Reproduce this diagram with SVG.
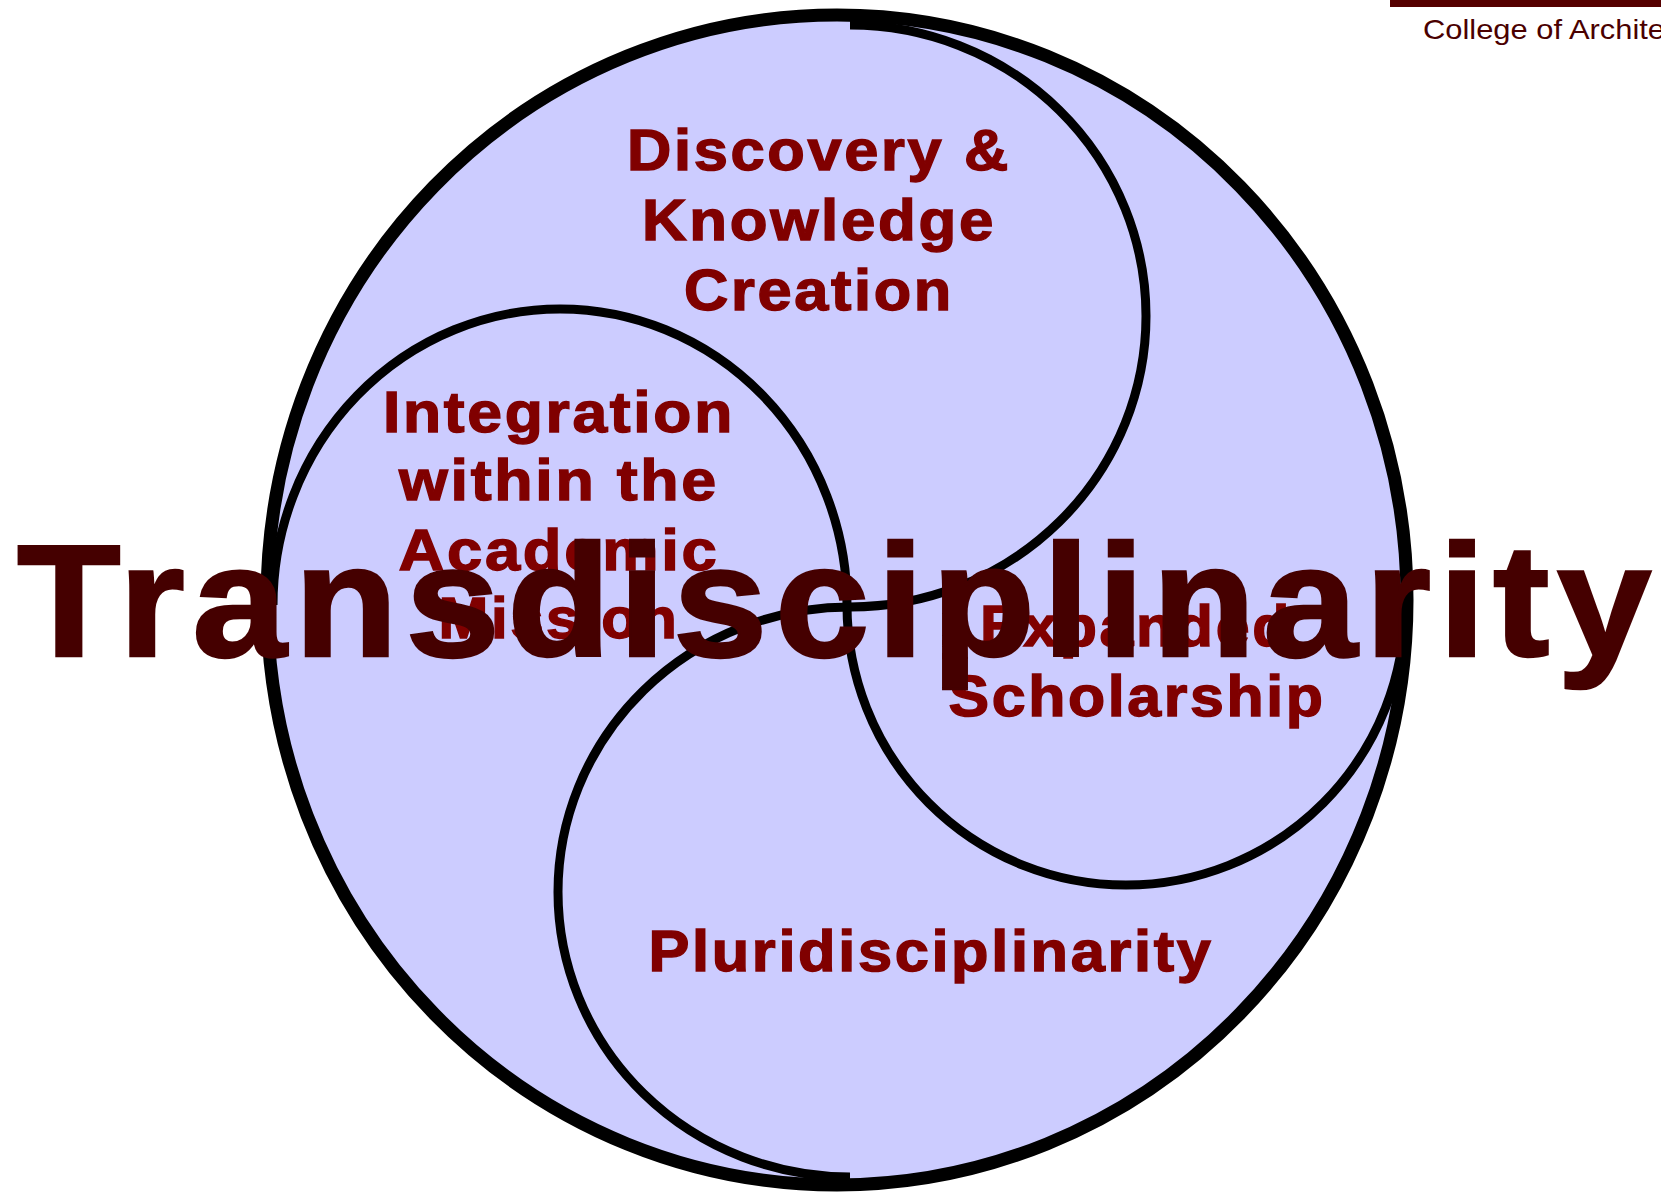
<svg xmlns="http://www.w3.org/2000/svg" width="1661" height="1193" viewBox="0 0 1661 1193">
<style>
.lbl{font-family:"Liberation Sans",Arial,sans-serif;font-weight:bold;font-size:58px;letter-spacing:2.5px;fill:#800000;stroke:#800000;stroke-width:1.4;text-anchor:middle}
.arc{fill:none;stroke:#000;stroke-width:9}
.big{font-family:"Liberation Sans",Arial,sans-serif;font-weight:bold;font-size:159px;letter-spacing:7px;fill:#450000;stroke:#450000;stroke-width:2.5}
.hdr{font-family:"Liberation Sans",Arial,sans-serif;font-size:28px;fill:#4a0000}
</style>
<rect width="1661" height="1193" fill="#fff"/>
<g id="header">
<rect x="1390" y="0" width="271" height="7" fill="#550000"/>
<text class="hdr" x="1423" y="39" textLength="242" lengthAdjust="spacingAndGlyphs">College of Archite</text>
</g>
<g id="circle">
<ellipse cx="837" cy="600" rx="570" ry="585" fill="#ccccff"/>
</g>
<g id="connectors">
<path class="arc" d="M 850 25 A 296 291 0 0 1 850 607 A 292 285 0 0 0 850 1177"/>
<path class="arc" d="M 273 605 A 287 296 0 0 1 847 605 A 279 280 0 0 0 1405 605"/>
</g>
<g id="outline">
<ellipse cx="837" cy="600" rx="570" ry="585" fill="none" stroke="#000" stroke-width="13"/>
</g>
<g id="discovery">
<text class="lbl" x="819" y="170" textLength="384" lengthAdjust="spacingAndGlyphs">Discovery &amp;</text>
<text class="lbl" x="819" y="240" textLength="354" lengthAdjust="spacingAndGlyphs">Knowledge</text>
<text class="lbl" x="819" y="310" textLength="270" lengthAdjust="spacingAndGlyphs">Creation</text>
</g>
<g id="integration">
<text class="lbl" x="559" y="432" textLength="352" lengthAdjust="spacingAndGlyphs">Integration</text>
<text class="lbl" x="559" y="500" textLength="320" lengthAdjust="spacingAndGlyphs">within the</text>
<text class="lbl" x="559" y="570" textLength="321" lengthAdjust="spacingAndGlyphs">Academic</text>
<text class="lbl" x="559" y="638" textLength="241" lengthAdjust="spacingAndGlyphs">Mission</text>
</g>
<g id="expanded">
<text class="lbl" x="1136" y="646" textLength="312" lengthAdjust="spacingAndGlyphs">Expanded</text>
<text class="lbl" x="1137" y="716" textLength="377" lengthAdjust="spacingAndGlyphs">Scholarship</text>
</g>
<g id="pluri">
<text class="lbl" x="931" y="971" textLength="565" lengthAdjust="spacingAndGlyphs">Pluridisciplinarity</text>
</g>
<g id="title">
<text class="big" x="17" y="656" textLength="1642" lengthAdjust="spacingAndGlyphs">Transdisciplinarity</text>
</g>
</svg>
